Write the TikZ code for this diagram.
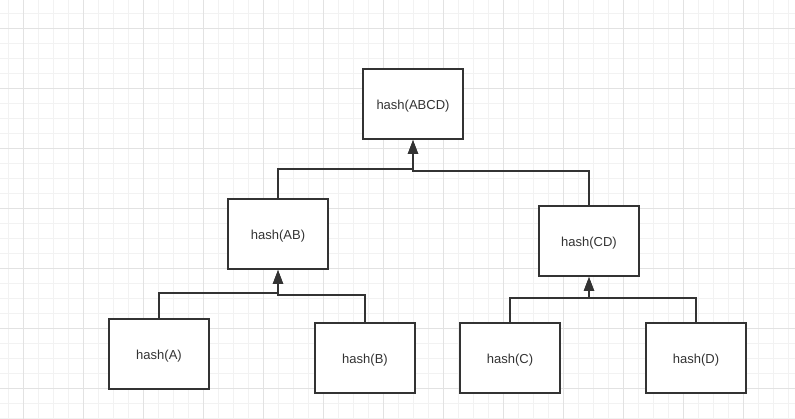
\documentclass[tikz,border=0pt]{standalone}
\usepackage{fontspec}
\setmainfont{Liberation Sans}
\usetikzlibrary{arrows.meta}
\definecolor{ink}{RGB}{51,51,51}
\definecolor{gridminor}{RGB}{242,242,242}
\definecolor{gridmajor}{RGB}{226,226,226}

\begin{document}
\begin{tikzpicture}[x=1pt, y=-1pt, font=\fontsize{13}{15}\selectfont, >={Triangle[length=14pt,width=10pt]},
  hashbox/.style={draw=ink, line width=2pt, fill=white, text=ink, minimum width=100pt, minimum height=70pt, inner sep=0pt, text height=11pt, text depth=0pt},
  conn/.style={draw=ink, line width=2pt}]
\useasboundingbox (0,0) rectangle (795,419);
% background grid
\foreach \k in {0,...,52}{ \draw[gridminor, line width=1pt] (8.33+15*\k,0) -- (8.33+15*\k,419); }
\foreach \k in {0,...,27}{ \draw[gridminor, line width=1pt] (0,13.33+15*\k) -- (795,13.33+15*\k); }
\foreach \k in {0,...,13}{ \draw[gridmajor, line width=1pt] (23.33+60*\k,0) -- (23.33+60*\k,419); }
\foreach \k in {0,...,6}{ \draw[gridmajor, line width=1pt] (0,28.33+60*\k) -- (795,28.33+60*\k); }
% tree nodes
\node[hashbox] (abcd) at (413,104) {hash(ABCD)};
\node[hashbox] (ab) at (278,234) {hash(AB)};
\node[hashbox] (cd) at (589,241) {hash(CD)};
\node[hashbox] (a) at (159,354) {hash(A)};
\node[hashbox] (b) at (365,358) {hash(B)};
\node[hashbox] (c) at (510,358) {hash(C)};
\node[hashbox] (d) at (696,358) {hash(D)};
% links to parents
\draw[conn, ->] (ab.north) -- ++(0,-29) -| (abcd.south);
\draw[conn, ->] (cd.north) -- ++(0,-34) -| (abcd.south);
\draw[conn, ->] (a.north) -- ++(0,-25) -| (ab.south);
\draw[conn, ->] (b.north) -- ++(0,-27) -| (ab.south);
\draw[conn, ->] (c.north) -- ++(0,-24) -| (cd.south);
\draw[conn, ->] (d.north) -- ++(0,-24) -| (cd.south);
\end{tikzpicture}
\end{document}
